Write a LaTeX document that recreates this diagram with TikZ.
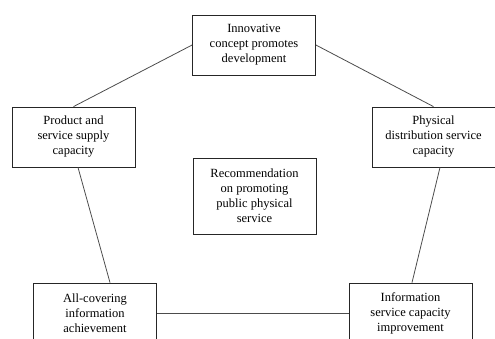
\documentclass[tikz,border=0pt]{standalone}
\usepackage{fontspec}
\setmainfont{Liberation Serif}
\usetikzlibrary{positioning}

\begin{document}
\begin{tikzpicture}[x=1pt,y=-1pt,
  box/.style={draw=black!85,line width=0.8pt,minimum width=123pt,minimum height=60pt,
    align=center,inner sep=2pt,font=\fontsize{12.5}{15}\selectfont},
  link/.style={draw=black!70,line width=0.8pt}]
\clip (0,0) rectangle (495,338);
\node[box] (idea) at (254,45) {Innovative\\concept promotes\\development};
\node[box] (supply) at (73.5,137) {Product and\\service supply\\capacity};
\node[box] (logist) at (433.5,137) {Physical\\distribution service\\capacity};
\node[box,minimum height=76pt] (advice) at (254.5,196) {Recommendation\\on promoting\\public physical\\service};
\node[box] (cover) at (95,313) {All-covering\\information\\achievement};
\node[box] (infor) at (410.5,313) {Information\\service capacity\\improvement};

\draw[link] (idea.west) -- (supply.north);
\draw[link] (idea.east) -- (logist.north);
\draw[link] ([xshift=4.5pt]supply.south) -- ([xshift=15pt]cover.north);
\draw[link] ([xshift=6.5pt]logist.south) -- ([xshift=1.5pt]infor.north);
\draw[link] (cover.east) -- (infor.west);
\end{tikzpicture}
\end{document}
